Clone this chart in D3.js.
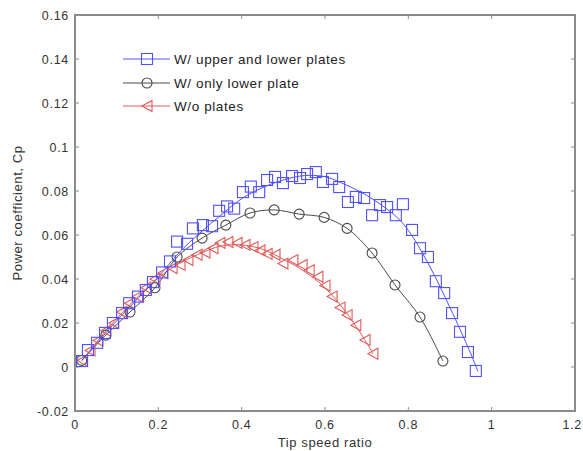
<!DOCTYPE html>
<html><head><meta charset="utf-8">
<script src="https://cdn.jsdelivr.net/npm/d3@7"></script>
<style>body{margin:0;background:#fff}svg{display:block}text{font-family:"Liberation Sans",Arial,sans-serif}</style>
</head><body><svg id="c" width="583" height="451"></svg>
<script>
const xTicks=[0,0.2,0.4,0.6,0.8,1,1.2];
const yTicks=[-0.02,0,0.02,0.04,0.06,0.08,0.1,0.12,0.14,0.16];
const seriesNames=["W/ upper and lower plates","W/ only lower plate","W/o plates"];
const blueX=[0.017,0.031,0.053,0.072,0.091,0.113,0.130,0.151,0.170,0.187,0.209,0.228,0.245,0.269,0.283,0.307,0.329,0.346,0.365,0.382,0.403,0.422,0.442,0.461,0.480,0.499,0.521,0.540,0.557,0.578,0.595,0.617,0.634,0.655,0.674,0.694,0.713,0.732,0.749,0.770,0.787,0.809,0.828,0.847,0.866,0.886,0.905,0.924,0.943,0.962];
const blueY=[0.0027,0.0077,0.011,0.0155,0.020,0.0245,0.029,0.032,0.035,0.0386,0.043,0.048,0.057,0.056,0.063,0.0645,0.064,0.071,0.073,0.072,0.0795,0.082,0.0795,0.085,0.0864,0.0836,0.0868,0.0859,0.0877,0.0886,0.0841,0.0855,0.0818,0.075,0.0773,0.0768,0.069,0.0736,0.0727,0.069,0.074,0.0623,0.054,0.050,0.039,0.0336,0.0245,0.016,0.0068,-0.0018];
const blueFitX=[0.017,0.1,0.2,0.25,0.3,0.35,0.4,0.45,0.5,0.55,0.6,0.636,0.7,0.773,0.804,0.852,0.9,0.95,0.967];
const blueFitY=[0.003,0.021,0.041,0.052,0.061,0.069,0.0765,0.0815,0.085,0.087,0.0865,0.084,0.078,0.068,0.061,0.0455,0.027,0.006,-0.002];
const blackX=[0.016,0.074,0.132,0.192,0.245,0.305,0.362,0.420,0.478,0.538,0.598,0.653,0.713,0.768,0.828,0.883];
const blackY=[0.003,0.0145,0.025,0.036,0.050,0.0586,0.0645,0.070,0.0714,0.0695,0.068,0.063,0.0518,0.0373,0.0227,0.0027];
const redX=[0.017,0.036,0.055,0.074,0.093,0.112,0.131,0.150,0.170,0.192,0.211,0.233,0.252,0.271,0.293,0.312,0.331,0.348,0.367,0.389,0.408,0.427,0.444,0.461,0.480,0.499,0.523,0.545,0.562,0.583,0.600,0.617,0.636,0.653,0.674,0.696,0.715];
const redY=[0.003,0.0075,0.012,0.0165,0.020,0.025,0.029,0.032,0.036,0.040,0.0427,0.045,0.0464,0.0486,0.051,0.052,0.054,0.0564,0.0568,0.0564,0.0555,0.0545,0.053,0.0514,0.051,0.047,0.0486,0.0464,0.044,0.041,0.037,0.032,0.027,0.0236,0.019,0.0123,0.006];
const redFitX=[0.017,0.1,0.2,0.25,0.3,0.35,0.4,0.45,0.5,0.55,0.6,0.65,0.7,0.715];
const redFitY=[0.003,0.022,0.0405,0.047,0.0515,0.055,0.0555,0.0535,0.049,0.0435,0.036,0.025,0.011,0.006];

const svg=d3.select("#c");
const W=583;
const L=75,R=575,T=15,B=411;
const x=d3.scaleLinear().domain([0,1.2]).range([L,R]);
const y=d3.scaleLinear().domain([-0.02,0.16]).range([B,T]);
const frame="#8c8c8c", txt="#333";
const blue="#5050ff", black="#4a4a4a", red="#e05a5a";

svg.append("rect").attr("x",L).attr("y",T).attr("width",R-L).attr("height",B-T).attr("fill","none").attr("stroke",frame).attr("stroke-width",2);
const fmt=d=>String(+d.toFixed(2));
const g=svg.append("g");
xTicks.forEach(t=>{
  g.append("line").attr("x1",x(t)).attr("x2",x(t)).attr("y1",B).attr("y2",B-4).attr("stroke",frame);
  g.append("line").attr("x1",x(t)).attr("x2",x(t)).attr("y1",T).attr("y2",T+4).attr("stroke",frame);
  const lab=g.append("text").attr("x",x(t)).attr("y",B+18).attr("text-anchor","middle").attr("font-size",12.5).attr("letter-spacing",0.7).attr("fill",txt).text(fmt(t));
  const bb=lab.node().getBBox();
  if(bb.x+bb.width>W-1) lab.attr("x",x(t)-(bb.x+bb.width-(W-1)));
});
yTicks.forEach(t=>{
  g.append("line").attr("x1",L).attr("x2",L+4).attr("y1",y(t)).attr("y2",y(t)).attr("stroke",frame);
  g.append("line").attr("x1",R).attr("x2",R-4).attr("y1",y(t)).attr("y2",y(t)).attr("stroke",frame);
  g.append("text").attr("x",L-6).attr("y",y(t)+4.5).attr("text-anchor","end").attr("font-size",12.5).attr("letter-spacing",0.7).attr("fill",txt).text(fmt(t));
});
svg.append("text").attr("x",(L+R)/2).attr("y",447).attr("text-anchor","middle").attr("font-size",13).attr("letter-spacing",0.6).attr("fill",txt).text("Tip speed ratio");
svg.append("text").attr("transform","translate(22,"+((T+B)/2)+") rotate(-90)").attr("text-anchor","middle").attr("font-size",13).attr("letter-spacing",0.6).attr("fill",txt).text("Power coefficient, Cp");

const line=d3.line().x(d=>x(d[0])).y(d=>y(d[1])).curve(d3.curveCatmullRom);
const zip=(a,b)=>a.map((v,i)=>[v,b[i]]);
function sq(sel,c){sel.append("rect").attr("x",-5.5).attr("y",-5.5).attr("width",11).attr("height",11).attr("fill","none").attr("stroke",c).attr("stroke-width",1.1);}
function ci(sel,c){sel.append("circle").attr("r",5).attr("fill","none").attr("stroke",c).attr("stroke-width",1.1);}
function tr(sel,c){sel.append("path").attr("d","M-5,0L5,-5.5L5,5.5Z").attr("fill","none").attr("stroke",c).attr("stroke-width",1.1);}

const plot=svg.append("g");
plot.append("path").datum(zip(redFitX,redFitY)).attr("d",line).attr("fill","none").attr("stroke",red).attr("stroke-width",1);
plot.append("path").datum(zip(blackX,blackY)).attr("d",line).attr("fill","none").attr("stroke",black).attr("stroke-width",1);
plot.append("path").datum(zip(blueFitX,blueFitY)).attr("d",line).attr("fill","none").attr("stroke",blue).attr("stroke-width",1);
zip(redX,redY).forEach(d=>tr(plot.append("g").attr("transform",`translate(${x(d[0])},${y(d[1])})`),red));
zip(blackX,blackY).forEach(d=>ci(plot.append("g").attr("transform",`translate(${x(d[0])},${y(d[1])})`),black));
zip(blueX,blueY).forEach(d=>sq(plot.append("g").attr("transform",`translate(${x(d[0])},${y(d[1])})`),blue));

const leg=svg.append("g");
const cols=[blue,black,red],mk=[sq,ci,tr],rowsY=[59,83,106];
seriesNames.forEach((n,i)=>{
  leg.append("line").attr("x1",123).attr("x2",170).attr("y1",rowsY[i]).attr("y2",rowsY[i]).attr("stroke",cols[i]).attr("stroke-width",1);
  mk[i](leg.append("g").attr("transform",`translate(147,${rowsY[i]})`),cols[i]);
  leg.append("text").attr("x",174).attr("y",rowsY[i]+5).attr("font-size",13.5).attr("letter-spacing",0.6).attr("fill","#222").text(n);
});
</script></body></html>
